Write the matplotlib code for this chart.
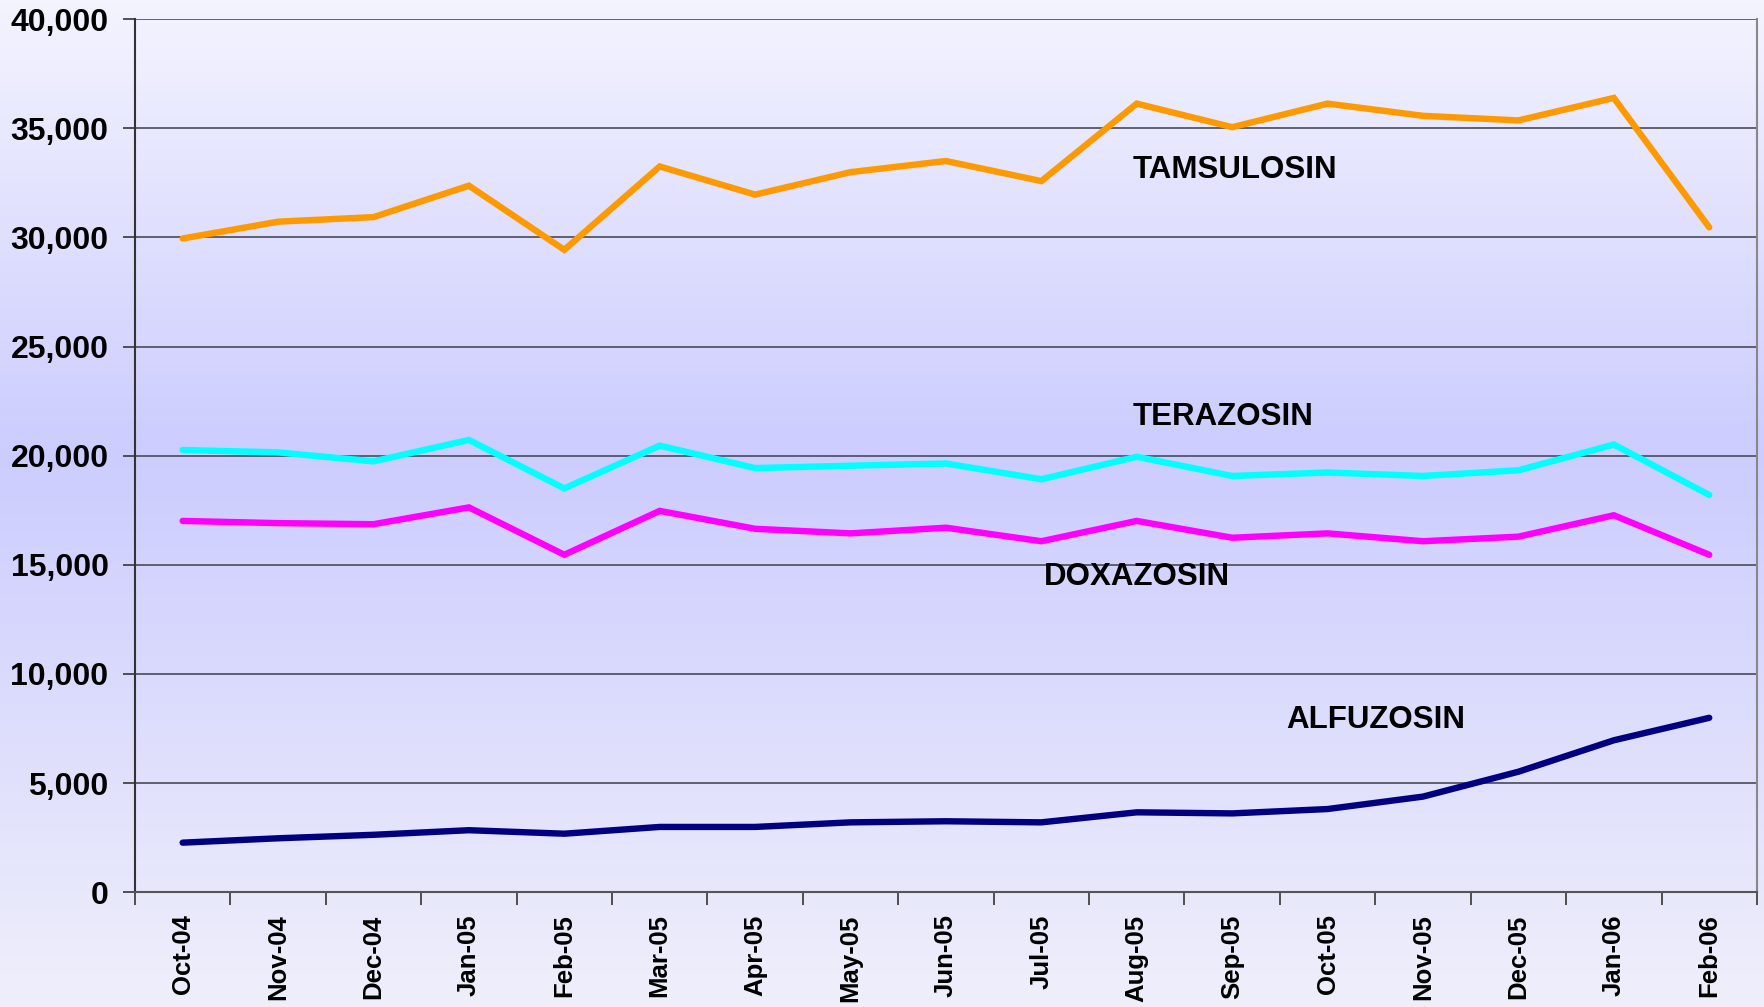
import numpy as np
import matplotlib
matplotlib.use("Agg")
import matplotlib.pyplot as plt
from matplotlib.colors import LinearSegmentedColormap
from matplotlib.ticker import FuncFormatter, FixedLocator

plt.rcParams["font.family"] = ["Liberation Sans", "DejaVu Sans"]
plt.rcParams["font.weight"] = "bold"

### data
months = ["Oct-04", "Nov-04", "Dec-04", "Jan-05", "Feb-05", "Mar-05", "Apr-05",
          "May-05", "Jun-05", "Jul-05", "Aug-05", "Sep-05", "Oct-05", "Nov-05",
          "Dec-05", "Jan-06", "Feb-06"]

tamsulosin = [29950, 30720, 30930, 32370, 29430, 33250, 31960, 32990, 33500,
              32580, 36130, 35050, 36130, 35570, 35360, 36390, 30460]
terazosin = [20260, 20150, 19740, 20720, 18500, 20460, 19430, 19540, 19640,
             18920, 19950, 19070, 19230, 19070, 19330, 20510, 18200]
doxazosin = [17010, 16910, 16860, 17630, 15460, 17470, 16650, 16440, 16700,
             16080, 17010, 16240, 16440, 16080, 16290, 17270, 15460]
alfuzosin = [2270, 2470, 2630, 2840, 2680, 2990, 2990, 3200, 3250,
             3200, 3660, 3610, 3810, 4380, 5520, 6960, 7990]

series = [
    ("TAMSULOSIN", tamsulosin, "#FF9900", (11.03, 33100)),
    ("TERAZOSIN", terazosin, "#00FFFF", (10.9, 21750)),
    ("DOXAZOSIN", doxazosin, "#FF00FF", (10.0, 14450)),
    ("ALFUZOSIN", alfuzosin, "#000080", (12.5, 7900)),
]

### figure + gradient background
fig = plt.figure(figsize=(17.64, 10.07), dpi=100)
bg = fig.add_axes([0, 0, 1, 1], zorder=-10)
grad_cmap = LinearSegmentedColormap.from_list(
    "bg", [(0.0, "#F4F4FE"), (0.45, "#CCCCFF"), (1.0, "#EFEFFB")])
bg.imshow(np.linspace(0, 1, 256).reshape(-1, 1), aspect="auto", cmap=grad_cmap,
          extent=[0, 1, 0, 1], origin="upper")
bg.set_axis_off()

ax = fig.add_axes([0.0765, 0.114, 0.9195, 0.867])
ax.patch.set_alpha(0)

x = np.arange(len(months))
for name, vals, color, (lx, ly) in series:
    ax.plot(x, vals, color=color, linewidth=4.6, solid_capstyle="round",
            solid_joinstyle="miter", zorder=3)
    ax.text(lx, ly, name, ha="center", va="center", fontsize=22.5,
            fontweight="bold", color="black")

ax.set_xlim(-0.5, len(months) - 0.5)
ax.set_ylim(0, 40000)
ax.set_yticks(np.arange(0, 40001, 5000))
ax.yaxis.set_major_formatter(FuncFormatter(lambda v, p: f"{int(v):,}"))
ax.grid(axis="y", color="#555566", linewidth=1.3)
ax.set_axisbelow(True)

ax.set_xticks(x)
ax.set_xticklabels(months, rotation=90, fontsize=18.5, fontweight="bold")
ax.xaxis.set_minor_locator(FixedLocator(np.arange(-0.5, len(months), 1.0)))
ax.tick_params(axis="x", which="major", length=0, pad=16)
ax.tick_params(axis="x", which="minor", length=9, width=1.3, color="#444444")
ax.tick_params(axis="y", length=9, width=1.3, color="#444444", labelsize=23, pad=10)
for lab in ax.get_yticklabels():
    lab.set_fontweight("bold")

ax.spines["top"].set_visible(False)
ax.spines["left"].set_color("#333333")
ax.spines["bottom"].set_color("#555555")
ax.spines["right"].set_color("#888888")
for s in ax.spines.values():
    s.set_linewidth(1.5)

fig.savefig("out.png", dpi=100)
